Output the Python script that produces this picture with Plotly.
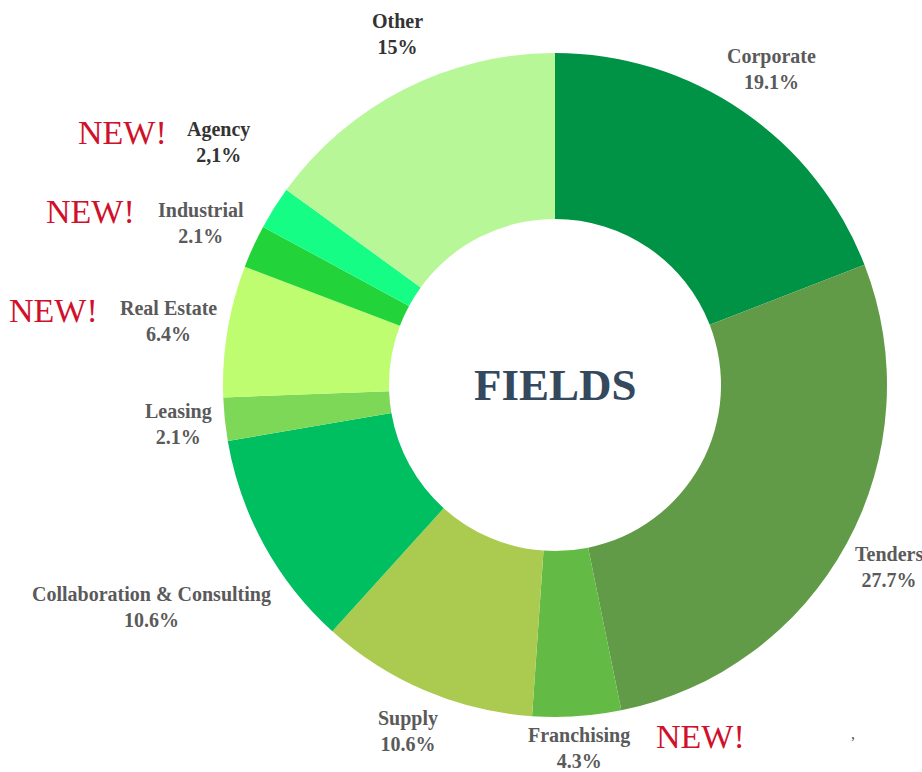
import math
import plotly.graph_objects as go

# ---- data ----
categories = ["Corporate", "Tenders", "Franchising", "Supply", "Collaboration & Consulting",
              "Leasing", "Real Estate", "Industrial", "Agency", "Other"]
values = [19.1, 27.7, 4.3, 10.6, 10.6, 2.1, 6.4, 2.1, 2.1, 15]
value_labels = ["19.1%", "27.7%", "4.3%", "10.6%", "10.6%", "2.1%", "6.4%", "2.1%", "2,1%", "15%"]
colors = ["#009245", "#629B48", "#63BA44", "#ABCB50", "#00BF60",
          "#7DD857", "#BDFD6F", "#22D43A", "#15FD84", "#B7F798"]
is_new = [False, False, True, False, False, False, True, True, True, False]

# ---- layout constants ----
W, H = 922, 772
CX, CY, R = 555, 385, 332
label_dist = [383, 381, 364, 376, 461, 379, 392, 389, 415, 385]
label_dang = [0, 0, 0, 0, 0, 0, 0, 0, 3.6, 2.8]
label_colors = ["#5a5a5a"] * 8 + ["#333333", "#333333"]
FONT = "Liberation Serif, Times New Roman, serif"
new_offsets = {"Franchising": (122, -12), "Real Estate": (-115, -11),
               "Industrial": (-111, -11), "Agency": (-96, -10)}

fig = go.Figure()
fig.add_trace(go.Pie(
    labels=categories, values=values, sort=False, direction="clockwise", rotation=0,
    hole=0.5, marker=dict(colors=colors, line=dict(width=0)),
    textinfo="none", hoverinfo="label+percent", showlegend=False,
    domain=dict(x=[(CX - R) / W, (CX + R) / W], y=[1 - (CY + R) / H, 1 - (CY - R) / H]),
))

annotations = []
total = sum(values)
cum = 0.0
for i, (cat, v) in enumerate(zip(categories, values)):
    mid = (cum + v / 2) / total * 2 * math.pi + math.radians(label_dang[i])
    cum += v
    px = CX + label_dist[i] * math.sin(mid)
    py = CY - label_dist[i] * math.cos(mid)
    annotations.append(dict(
        x=px / W, y=1 - py / H, xref="paper", yref="paper", showarrow=False,
        xanchor="center", yanchor="middle",
        text=f"<b>{cat}</b><br><b>{value_labels[i]}</b>",
        font=dict(family=FONT, size=20, color=label_colors[i]),
    ))
    if is_new[i]:
        dx, dy = new_offsets[cat]
        annotations.append(dict(
            x=(px + dx) / W, y=1 - (py + dy) / H, xref="paper", yref="paper", showarrow=False,
            xanchor="center", yanchor="middle", text="NEW!",
            font=dict(family=FONT, size=34, color="#D0112B"),
        ))

annotations.append(dict(x=CX / W, y=1 - CY / H, xref="paper", yref="paper", showarrow=False,
                        xanchor="center", yanchor="middle", text="<b>FIELDS</b>",
                        font=dict(family=FONT, size=45, color="#34495E")))
annotations.append(dict(x=853 / W, y=1 - 733 / H, xref="paper", yref="paper", showarrow=False,
                        xanchor="center", yanchor="middle", text=",",
                        font=dict(family=FONT, size=16, color="#555555")))

fig.update_layout(
    width=W, height=H, margin=dict(l=0, r=0, t=0, b=0),
    paper_bgcolor="white", plot_bgcolor="white",
    annotations=annotations,
)
fig.write_html("out.html", config={"displayModeBar": False},
               post_script="document.body.style.margin='0';document.body.style.overflow='hidden';")
